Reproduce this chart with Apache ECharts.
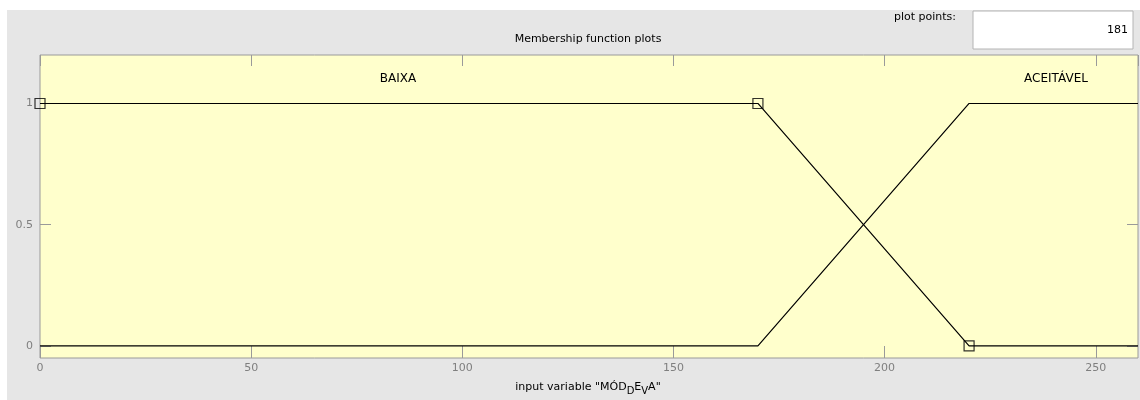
<!DOCTYPE html>
<html>
<head>
<meta charset="utf-8">
<script src="https://cdn.jsdelivr.net/npm/echarts@6/dist/echarts.min.js"></script>
<style>
html,body{margin:0;padding:0;background:#fff;}
#c{width:1140px;height:400px;}
</style>
</head>
<body>
<div id="c"></div>
<script>
// Data
const mfNames = ['BAIXA', 'ACEITÁVEL'];
const baixa = [[0, 1], [170, 1], [220, 0], [260, 0]];
const aceitavel = [[0, 0], [170, 0], [220, 1], [260, 1]];
const baixaHandles = [[0, 1], [170, 1], [220, 0]];
const xTicks = [0, 50, 100, 150, 200, 250];
const yTicks = [0, 0.5, 1];
const plotPoints = '181';
const chartTitle = 'Membership function plots';

const chart = echarts.init(document.getElementById('c'), null, {renderer: 'canvas'});
const FONT = 'DejaVu Sans';
const tickColor = '#9a9a9a';
const labelColor = '#7f7f7f';

chart.setOption({
  animation: false,
  backgroundColor: '#ffffff',
  textStyle: {fontFamily: FONT},
  graphic: [
    {type: 'rect', z: -10, silent: true, shape: {x: 7, y: 10, width: 1133, height: 390}, style: {fill: '#e6e6e6'}},
    {type: 'text', style: {text: chartTitle, font: '11px "DejaVu Sans"', fill: '#000', x: 588, y: 39, align: 'center', verticalAlign: 'middle'}},
    {type: 'text', style: {text: 'plot points:', font: '11px "DejaVu Sans"', fill: '#000', x: 925, y: 17, align: 'center', verticalAlign: 'middle'}},
    {type: 'rect', shape: {x: 973, y: 11, width: 160, height: 38}, style: {fill: '#ffffff', stroke: '#b4b4b4', lineWidth: 1}},
    {type: 'text', style: {text: plotPoints, font: '11px "DejaVu Sans"', fill: '#000', x: 1128, y: 30, align: 'right', verticalAlign: 'middle'}},
    {type: 'text', style: {text: mfNames[0], font: '12px "DejaVu Sans"', fill: '#000', x: 398, y: 79, align: 'center', verticalAlign: 'middle'}},
    {type: 'text', style: {text: mfNames[1], font: '12px "DejaVu Sans"', fill: '#000', x: 1056, y: 79, align: 'center', verticalAlign: 'middle'}},
    {type: 'text', style: {
      text: 'input variable "MÓD{sub|D}E{sub|V}A"',
      font: '11px "DejaVu Sans"', fill: '#000', x: 588, y: 387, align: 'center', verticalAlign: 'middle',
      rich: {sub: {fontSize: 10, fontFamily: FONT, fill: '#000', padding: [9, 0, 0, 0]}}
    }}
  ],
  grid: {
    left: 40, top: 55, width: 1098, height: 303,
    show: true, backgroundColor: '#ffffcc', borderColor: '#9a9a9a', borderWidth: 1
  },
  xAxis: [{
    type: 'value', min: 0, max: 260, interval: 50, position: 'bottom',
    axisLine: {show: false, onZero: false},
    axisTick: {show: true, inside: true, length: 12, lineStyle: {color: tickColor}},
    axisLabel: {color: labelColor, fontSize: 11, fontFamily: FONT, margin: 5, showMaxLabel: false},
    splitLine: {show: false}
  }, {
    type: 'value', min: 0, max: 260, interval: 50, position: 'top',
    axisLine: {show: false, onZero: false},
    axisTick: {show: true, inside: true, length: 11, lineStyle: {color: tickColor}},
    axisLabel: {show: false},
    splitLine: {show: false}
  }],
  yAxis: [{
    type: 'value', min: -0.05, max: 1.2, position: 'left',
    axisLine: {show: false, onZero: false},
    axisTick: {show: true, inside: true, length: 11, customValues: yTicks, lineStyle: {color: tickColor}},
    axisLabel: {color: labelColor, fontSize: 11, fontFamily: FONT, margin: 7, customValues: yTicks,
      formatter: v => String(v)},
    splitLine: {show: false}
  }, {
    type: 'value', min: -0.05, max: 1.2, position: 'right',
    axisLine: {show: false, onZero: false},
    axisTick: {show: true, inside: true, length: 11, customValues: yTicks, lineStyle: {color: tickColor}},
    axisLabel: {show: false},
    splitLine: {show: false}
  }],
  series: [
    {type: 'line', name: mfNames[0], data: baixa, showSymbol: false, symbol: 'none',
      lineStyle: {color: '#000', width: 1.2}, silent: true},
    {type: 'line', name: mfNames[1], data: aceitavel, showSymbol: false, symbol: 'none',
      lineStyle: {color: '#000', width: 1.2}, silent: true},
    {type: 'line', xAxisIndex: 1, yAxisIndex: 1, data: aceitavel, showSymbol: false, symbol: 'none',
      lineStyle: {opacity: 0}, silent: true},
    {type: 'scatter', data: baixaHandles, symbol: 'rect', symbolSize: 10, clip: true,
      itemStyle: {color: 'rgba(0,0,0,0)', borderColor: '#000', borderWidth: 1.2}, silent: true, z: 5}
  ]
});
</script>
</body>
</html>
